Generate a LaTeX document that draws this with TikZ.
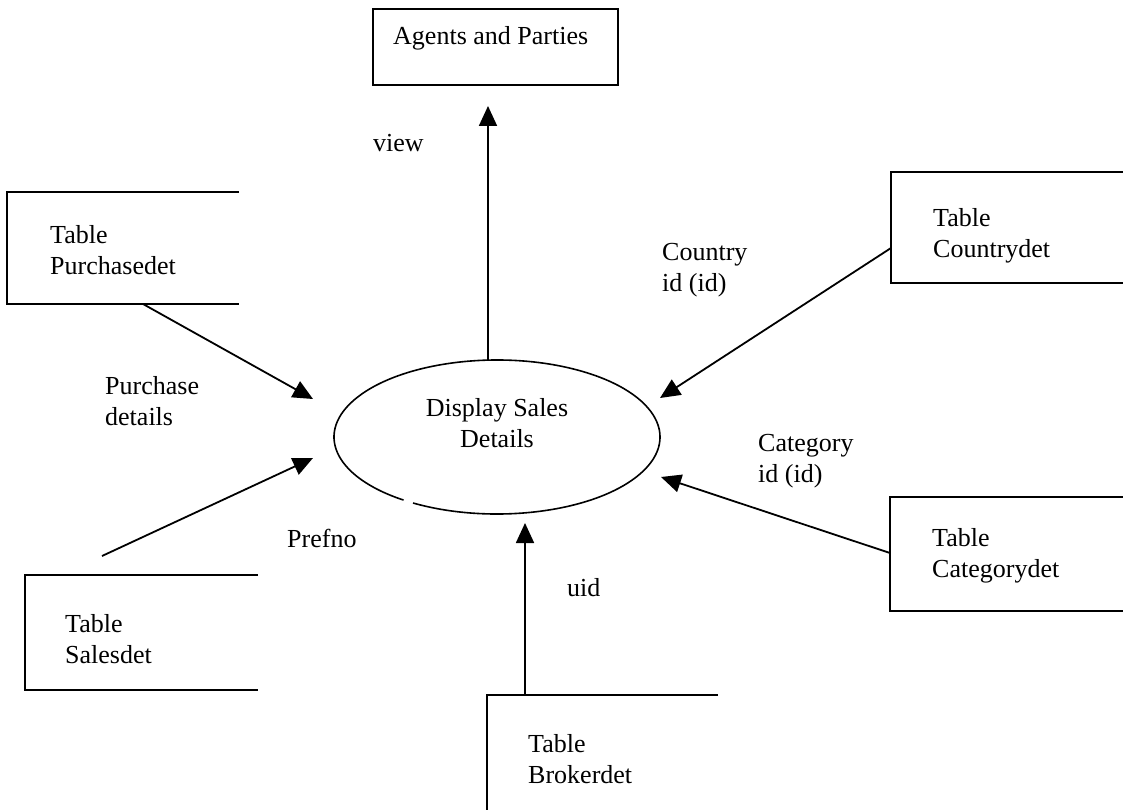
\documentclass[tikz,border=0pt]{standalone}
\usepackage{fontspec}
\setmainfont{Liberation Serif}
\usetikzlibrary{arrows.meta,calc,shapes.geometric}
\begin{document}
\begin{tikzpicture}[x=1pt,y=1pt,
  lbl/.style={inner sep=0pt, anchor=west, align=left, font=\fontsize{26}{31}\selectfont},
  ctr/.style={inner sep=0pt, align=center, font=\fontsize{26}{31}\selectfont},
  edge/.style={line width=1.8pt},
  flow/.style={line width=1.8pt, -{Triangle[length=20pt,width=18pt]}},
  area/.style={inner sep=0pt, outer sep=0pt, rectangle}
]
\useasboundingbox (0,0) rectangle (1123,-810);

% external entity
\node[area, draw, line width=1.8pt, minimum width=245, minimum height=76, anchor=north west] (agents) at (373,-9) {};
\node[lbl] (agentsT) at (393,-38) {Agents and Parties};

% process
\node[ellipse, inner sep=0pt, minimum width=326, minimum height=154] (proc) at (497,-437) {};
\draw[line width=1.6pt] (proc.center) ++(239:163 and 77) arc[start angle=239, end angle=595, x radius=163, y radius=77];
\node[ctr] (procT) at (497,-423) {Display Sales\\Details};

% data stores (open-sided)
\node[area, minimum width=232, minimum height=112, anchor=north west] (purch) at (7,-192) {};
\draw[edge] (purch.north east) -- (purch.north west) -- (purch.south west) -- (purch.south east);
\node[lbl] (purchT) at (50,-250) {Table\\Purchasedet};

\node[area, minimum width=233, minimum height=115, anchor=north west] (sales) at (25,-575) {};
\draw[edge] (sales.north east) -- (sales.north west) -- (sales.south west) -- (sales.south east);
\node[lbl] (salesT) at (65,-639) {Table\\Salesdet};

\node[area, minimum width=231, minimum height=115, anchor=north west] (broker) at (487,-695) {};
\draw[edge] (broker.north east) -- (broker.north west) -- (broker.south west);
\node[lbl] (brokerT) at (528,-759) {Table\\Brokerdet};

\node[area, minimum width=232, minimum height=111, anchor=north west] (country) at (891,-172) {};
\draw[edge] (country.north east) -- (country.north west) -- (country.south west) -- (country.south east);
\node[lbl] (countryT) at (933,-236) {Table\\Countrydet};

\node[area, minimum width=233, minimum height=114, anchor=north west] (categ) at (890,-497) {};
\draw[edge] (categ.north east) -- (categ.north west) -- (categ.south west) -- (categ.south east);
\node[lbl] (categT) at (932,-556) {Table\\Categorydet};

% flow end points
\coordinate (viewTip) at (488,-106);
\coordinate (procTop) at (488,-360);
\coordinate (purchTip) at (313,-399);
\coordinate (salesFrom) at (102,-556);
\coordinate (salesTip) at (313,-458);
\coordinate (brokerTip) at (525,-523);
\coordinate (countryTip) at (660,-398);
\coordinate (categTip) at (661,-477);

% flows
\draw[flow] (procTop) -- (viewTip);
\draw[flow] ($(purch.south west)+(136,0)$) -- (purchTip);
\draw[flow] (salesFrom) -- (salesTip);
\draw[flow] ($(broker.north west)+(38,0)$) -- (brokerTip);
\draw[flow] ($(country.north west)+(0,-76)$) -- (countryTip);
\draw[flow] ($(categ.north west)+(0,-56)$) -- (categTip);

% flow labels
\node[lbl] (viewL) at (373,-143) {view};
\node[lbl] (purchL) at (105,-401) {Purchase\\details};
\node[lbl] (prefL) at (287,-538) {Prefno};
\node[lbl] (uidL) at (567,-588) {uid};
\node[lbl] (countryL) at (662,-270) {Country\\id (id)};
\node[lbl] (categL) at (758,-461) {Category\\id (id)};
\end{tikzpicture}
\end{document}
